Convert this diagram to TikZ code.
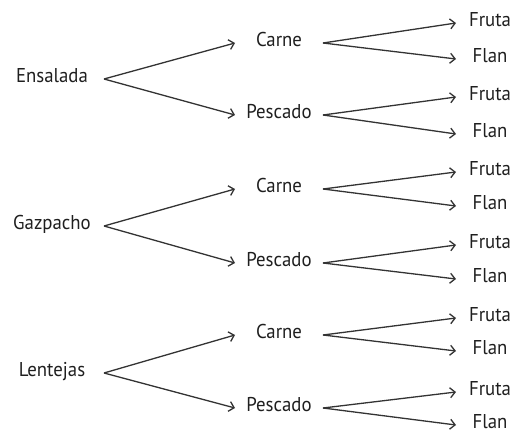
\documentclass[tikz,border=0pt]{standalone}
\usepackage{fontspec}
\setmainfont[FakeStretch=0.94]{PT Sans}
\usepackage{tikz}
\usetikzlibrary{positioning,arrows.meta}

\begin{document}
\begin{tikzpicture}[x=1pt,y=-1pt]
  \tikzset{FirstStyle/.style = {
    shape         = rectangle,
    text          = black!88,
    font          = \fontsize{20}{20}\selectfont,
    text height   = 0.7em,
    text depth    = 0pt,
    inner sep     = 0pt,
    outer sep     = 0pt,
    minimum width = 104pt
    }
  }
  \tikzset{SecondStyle/.style = {
    FirstStyle,
    minimum width = 88pt
    }
  }
  \tikzset{DessertStyle/.style = {
    FirstStyle,
    minimum width = 68pt
    }
  }
  \tikzset{EdgeStyle/.style = {
    draw          = black!80,
    line width    = 1.3pt,
    -{Straight Barb[length=5pt,width=10pt,line width=1.3pt]}
    }
  }

  \useasboundingbox (0,0) rectangle (516,435);

	\node[FirstStyle](A1) at (52, 79) {Ensalada};
	\node[FirstStyle](A2) at (52, 226) {Gazpacho};
	\node[FirstStyle](A3) at (52, 373) {Lentejas};
	%
	\node[SecondStyle](B1) at (279, 43) {Carne};
	\node[SecondStyle](B2) at (279, 115) {Pescado};
	\node[SecondStyle](B3) at (279, 189) {Carne};
	\node[SecondStyle](B4) at (279, 263) {Pescado};
	\node[SecondStyle](B5) at (279, 335) {Carne};
	\node[SecondStyle](B6) at (279, 408) {Pescado};
	%
	\node[DessertStyle](C01) at (490, 23) {Fruta};
	\node[DessertStyle](C02) at (490, 59) {Flan};
	\node[DessertStyle](C03) at (490, 97) {Fruta};
	\node[DessertStyle](C04) at (490, 134) {Flan};
	\node[DessertStyle](C05) at (490, 172) {Fruta};
	\node[DessertStyle](C06) at (490, 206) {Flan};
	\node[DessertStyle](C07) at (490, 245) {Fruta};
	\node[DessertStyle](C08) at (490, 279) {Flan};
	\node[DessertStyle](C09) at (490, 318) {Fruta};
	\node[DessertStyle](C10) at (490, 351) {Flan};
	\node[DessertStyle](C11) at (490, 392) {Fruta};
	\node[DessertStyle](C12) at (490, 425) {Flan};

	%
	\draw[EdgeStyle](A1.east) to (B1.west);
	\draw[EdgeStyle](A1.east) to (B2.west);
	\draw[EdgeStyle](A2.east) to (B3.west);
	\draw[EdgeStyle](A2.east) to (B4.west);
	\draw[EdgeStyle](A3.east) to (B5.west);
	\draw[EdgeStyle](A3.east) to (B6.west);
	\draw[EdgeStyle](B1.east) to (C01.west);
	\draw[EdgeStyle](B1.east) to (C02.west);
	\draw[EdgeStyle](B2.east) to (C03.west);
	\draw[EdgeStyle](B2.east) to (C04.west);
	\draw[EdgeStyle](B3.east) to (C05.west);
	\draw[EdgeStyle](B3.east) to (C06.west);
	\draw[EdgeStyle](B4.east) to (C07.west);
	\draw[EdgeStyle](B4.east) to (C08.west);
	\draw[EdgeStyle](B5.east) to (C09.west);
	\draw[EdgeStyle](B5.east) to (C10.west);
	\draw[EdgeStyle](B6.east) to (C11.west);
	\draw[EdgeStyle](B6.east) to (C12.west);

  \end{tikzpicture}
\end{document}
